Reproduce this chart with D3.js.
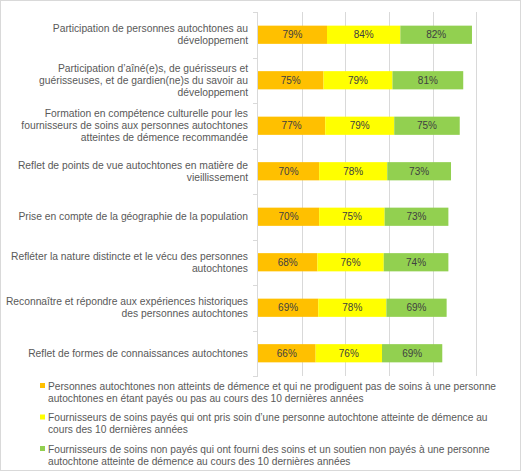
<!DOCTYPE html>
<html><head><meta charset="utf-8">
<script src="https://cdn.jsdelivr.net/npm/d3@7"></script>
<style>
html,body{margin:0;padding:0;background:#fff;}
text{font-family:"Liberation Sans",Arial,sans-serif;}
</style></head>
<body>
<svg id="chart" width="521" height="472"></svg>
<script>
const categories = [
  "Participation de personnes autochtones au\ndéveloppement",
  "Participation d’aîné(e)s, de guérisseurs et\nguérisseuses, et de gardien(ne)s du savoir au\ndéveloppement",
  "Formation en compétence culturelle pour les\nfournisseurs de soins aux personnes autochtones\natteintes de démence recommandée",
  "Reflet de points de vue autochtones en matière de\nvieillissement",
  "Prise en compte de la géographie de la population",
  "Refléter la nature distincte et le vécu des personnes\nautochtones",
  "Reconnaître et répondre aux expériences historiques\ndes personnes autochtones",
  "Reflet de formes de connaissances autochtones"
];
const seriesNames = [
  "Personnes autochtones non atteints de démence et qui ne prodiguent pas de soins à une personne\nautochtones en étant payés ou pas au cours des 10 dernières années",
  "Fournisseurs de soins payés qui ont pris soin d’une personne autochtone atteinte de démence au\ncours des 10 dernières années",
  "Fournisseurs de soins non payés qui ont fourni des soins et un soutien non payés à une personne\nautochtone atteinte de démence au cours des 10 dernières années"
];
const nonCaregivers = [79, 75, 77, 70, 70, 68, 69, 66];
const paidCaregivers = [84, 79, 79, 78, 75, 76, 78, 76];
const unpaidCaregivers = [82, 81, 75, 73, 73, 74, 69, 69];
const colors = ["#FFC000", "#FFFF00", "#92D050"];
const xTicks = [0, 50, 100, 150, 200, 250, 300];

(function(){
const svg = d3.select("#chart");
svg.append("rect").attr("x",0.5).attr("y",0.5).attr("width",520).attr("height",470)
  .attr("fill","#fff").attr("stroke","#d9d9d9");

const pLeft = 258, pRight = 520, pTop = 12, pBottom = 376;
const x = d3.scaleLinear().domain([0,300]).range([pLeft,pRight]);
const y = d3.scaleBand().domain(d3.range(categories.length)).range([pTop,pBottom]).paddingInner(0.6).paddingOuter(0.3);
const yb = d3.scaleBand().domain(d3.range(categories.length)).range([pTop,pBottom]);

// gridlines
svg.append("g").selectAll("line").data(xTicks.slice(1)).join("line")
  .attr("x1",d=>Math.round(x(d))+0.5).attr("x2",d=>Math.round(x(d))+0.5)
  .attr("y1",pTop).attr("y2",pBottom).attr("stroke","#d9d9d9").attr("stroke-width",1);

// category axis
const ax = svg.append("g");
ax.append("line").attr("x1",pLeft-0.5).attr("x2",pLeft-0.5).attr("y1",pTop).attr("y2",pBottom).attr("stroke","#d9d9d9");
const tickYs = d3.range(categories.length+1).map(i=> i<categories.length ? yb(i) : pBottom);
ax.selectAll("line.t").data(tickYs).join("line").attr("class","t")
  .attr("x1",pLeft-5).attr("x2",pLeft).attr("y1",d=>Math.round(d)+0.5).attr("y2",d=>Math.round(d)+0.5).attr("stroke","#d9d9d9");

// category labels
const lh = 12;
categories.forEach((c,i)=>{
  const lines = c.split("\n");
  const cy = yb(i) + yb.bandwidth()/2;
  const t = svg.append("text").attr("text-anchor","end").attr("font-size",10.3).attr("fill","#595959");
  lines.forEach((ln,j)=>{
    t.append("tspan").attr("x",248).attr("y", cy - (lines.length-1)*lh/2 + j*lh + 3.5).text(ln);
  });
});

// stacked bars
const rows = categories.map((c,i)=>[nonCaregivers[i], paidCaregivers[i], unpaidCaregivers[i]]);
const stack = d3.stack().keys([0,1,2])(rows);
stack.forEach((layer,k)=>{
  const g = svg.append("g");
  g.selectAll("rect").data(layer).join("rect")
    .attr("x",d=>x(d[0])).attr("width",d=>x(d[1])-x(d[0]))
    .attr("y",(d,i)=>y(i)).attr("height",y.bandwidth()).attr("fill",colors[k]);
  g.selectAll("text").data(layer).join("text")
    .attr("x",d=>(x(d[0])+x(d[1]))/2).attr("y",(d,i)=>y(i)+y.bandwidth()/2+3.5)
    .attr("text-anchor","middle").attr("font-size",10).attr("fill","#404040")
    .text(d=>(d[1]-d[0])+"%");
});

// legend
const legY = [389.5, 421, 452.5];
seriesNames.forEach((s,k)=>{
  svg.append("rect").attr("x",40).attr("y",legY[k]-6.5).attr("width",5).attr("height",5).attr("fill",colors[k]);
  const t = svg.append("text").attr("font-size",10.2).attr("fill","#595959");
  s.split("\n").forEach((ln,j)=>{
    t.append("tspan").attr("x",48).attr("y",legY[k]+j*12).text(ln);
  });
});
})();
</script>
</body></html>
